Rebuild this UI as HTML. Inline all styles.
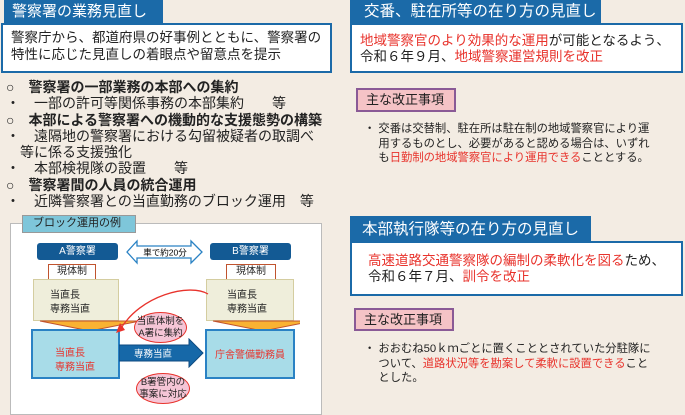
<!DOCTYPE html><html><head><meta charset="utf-8"><style>
*{margin:0;padding:0;box-sizing:border-box}
body{width:685px;height:414px;background:#f3ece3;position:relative;overflow:hidden;font-family:"Liberation Sans","Noto Sans CJK JP",sans-serif;color:#222}
.a{position:absolute;white-space:nowrap}
.tab{background:#1b6aa8;color:#fff;font-size:15px;line-height:23px;padding-left:8px}
.box{background:#fff;border:2px solid #1b6aa8}
.r{color:#e8332c}
.lab{background:#f5c3c6;border:2px solid #8a5a96;font-size:13px;line-height:20px;padding-left:8px}
.t{font-size:14px;line-height:16.3px}
.s{font-size:11.3px;line-height:14.7px}
.db{background:#135a94;color:#fff;font-size:10px;text-align:center;line-height:17px;border-radius:3px}
.gt{background:#fff;border:1.5px solid #c0532e;font-size:10px;text-align:center;line-height:14px}
.bg{background:#efeedb;border:1.5px solid #d4cda0;font-size:10px;line-height:14px;padding:9px 0 0 16px}
.lb{background:#a8dce8;border:2px solid #2a82c4;font-size:10px;line-height:14px;color:#e8332c}
.el{background:#f5c5d6;border:1.5px solid #e8332c;border-radius:50%;font-size:9.5px;line-height:12px;text-align:center;padding-top:3px}
</style></head><body>
<div class="a tab" style="left:4px;top:0;width:159px">警察署の業務見直し</div>
<div class="a box" style="left:1px;top:23px;width:331px;height:50px;padding:5px 0 0 8px;font-size:13.5px;line-height:16.5px">警察庁から、都道府県の好事例とともに、警察署の<br>特性に応じた見直しの着眼点や留意点を提示</div>
<div class="a t" style="left:6px;top:79px">○　<b>警察署の一部業務の本部への集約</b><br>・　一部の許可等関係事務の本部集約　　等<br>○　<b>本部による警察署への機動的な支援態勢の構築</b><br>・　遠隔地の警察署における勾留被疑者の取調べ<br>　等に係る支援強化<br>・　本部検視隊の設置　　等<br>○　<b>警察署間の人員の統合運用</b><br>・　近隣警察署との当直勤務のブロック運用　等</div>
<div class="a" style="left:10px;top:223px;width:312px;height:192px;background:#fff;border:1.5px solid #bbb"></div>
<div class="a" style="left:22px;top:215px;width:114px;height:18px;background:#7ec6da;border:1.5px solid #999;font-size:11px;line-height:15px;padding-left:10px">ブロック運用の例</div>
<div class="a db" style="left:37px;top:243px;width:81px">A警察署</div>
<div class="a db" style="left:210px;top:243px;width:81px">B警察署</div>
<svg class="a" style="left:125px;top:238px" width="80" height="28"><path d="M2,14 L12,3 L12,8 L66,8 L66,3 L77,14 L66,25 L66,20 L12,20 L12,25 Z" fill="#fff" stroke="#2a82c4" stroke-width="1.3"/><text x="40" y="17.5" font-size="8.5" text-anchor="middle" font-family="Liberation Sans,Noto Sans CJK JP,sans-serif">車で約20分</text></svg>
<div class="a gt" style="left:48px;top:264px;width:48px">現体制</div>
<div class="a gt" style="left:226px;top:264px;width:50px">現体制</div>
<div class="a bg" style="left:33px;top:279px;width:86px;height:42px">当直長<br>専務当直</div>
<div class="a bg" style="left:206px;top:279px;width:88px;height:42px;padding-left:20px">当直長<br>専務当直</div>
<svg class="a" style="left:30px;top:320px" width="270" height="12"><path d="M10,1 L110,1 L60,11Z" fill="#f9b233" stroke="#c0532e" stroke-width="1"/><path d="M183,1 L283,1 L233,11Z" fill="#f9b233" stroke="#c0532e" stroke-width="1"/></svg>
<div class="a lb" style="left:31px;top:329px;width:89px;height:50px;padding:16px 0 0 22px">当直長<br>専務当直</div>
<div class="a lb" style="left:205px;top:329px;width:90px;height:50px;padding-top:18px;text-align:center">庁舎警備勤務員</div>
<svg class="a" style="left:119px;top:338px" width="86" height="30"><path d="M0,7 L70,7 L70,1 L84,15 L70,29 L70,23 L0,23Z" fill="#1668a8" stroke="#0d4a80"/><text x="34" y="19" font-size="9.5" fill="#fff" text-anchor="middle" font-family="Liberation Sans,Noto Sans CJK JP,sans-serif">専務当直</text></svg>
<svg class="a" style="left:110px;top:285px" width="105" height="50"><path d="M98,9 C80,-2 30,10 10,45" fill="none" stroke="#e8332c" stroke-width="1.3"/><path d="M6,48 L10,38 L15,45Z" fill="#e8332c"/></svg>
<div class="a el" style="left:134px;top:312px;width:53px;height:31px">当直体制を<br>A署に集約</div>
<div class="a el" style="left:136px;top:373px;width:54px;height:31px">B署管内の<br>事案に対応</div>
<div class="a tab" style="left:350px;top:0;width:251px;font-size:15.5px;padding-left:14px">交番、駐在所等の在り方の見直し</div>
<div class="a box" style="left:350px;top:23px;width:333px;height:50px;padding:8px 0 0 8px;font-size:13.5px;line-height:16px"><span class="r">地域警察官のより効果的な運用</span>が可能となるよう、<br>令和６年９月、<span class="r">地域警察運営規則を改正</span></div>
<div class="a lab" style="left:356px;top:88px;width:100px;height:24px">主な改正事項</div>
<div class="a s" style="left:364px;top:122px">・ 交番は交替制、駐在所は駐在制の地域警察官により運<br>　 用するものとし、必要があると認める場合は、いずれ<br>　 も<span class="r">日勤制の地域警察官により運用できる</span>こととする。</div>
<div class="a tab" style="left:350px;top:216px;width:241px;height:27px;line-height:27px;font-size:15.5px;padding-left:12px">本部執行隊等の在り方の見直し</div>
<div class="a box" style="left:350px;top:241px;width:333px;height:55px;padding:10px 0 0 16px;font-size:13.5px;line-height:16px"><span class="r">高速道路交通警察隊の編制の柔軟化を図る</span>ため、<br>令和６年７月、<span class="r">訓令を改正</span></div>
<div class="a lab" style="left:354px;top:308px;width:100px;height:23px">主な改正事項</div>
<div class="a s" style="left:364px;top:342px">・ おおむね50ｋｍごとに置くこととされていた分駐隊に<br>　 ついて、<span class="r">道路状況等を勘案して柔軟に設置できる</span>こと<br>　 とした。</div>
</body></html>
